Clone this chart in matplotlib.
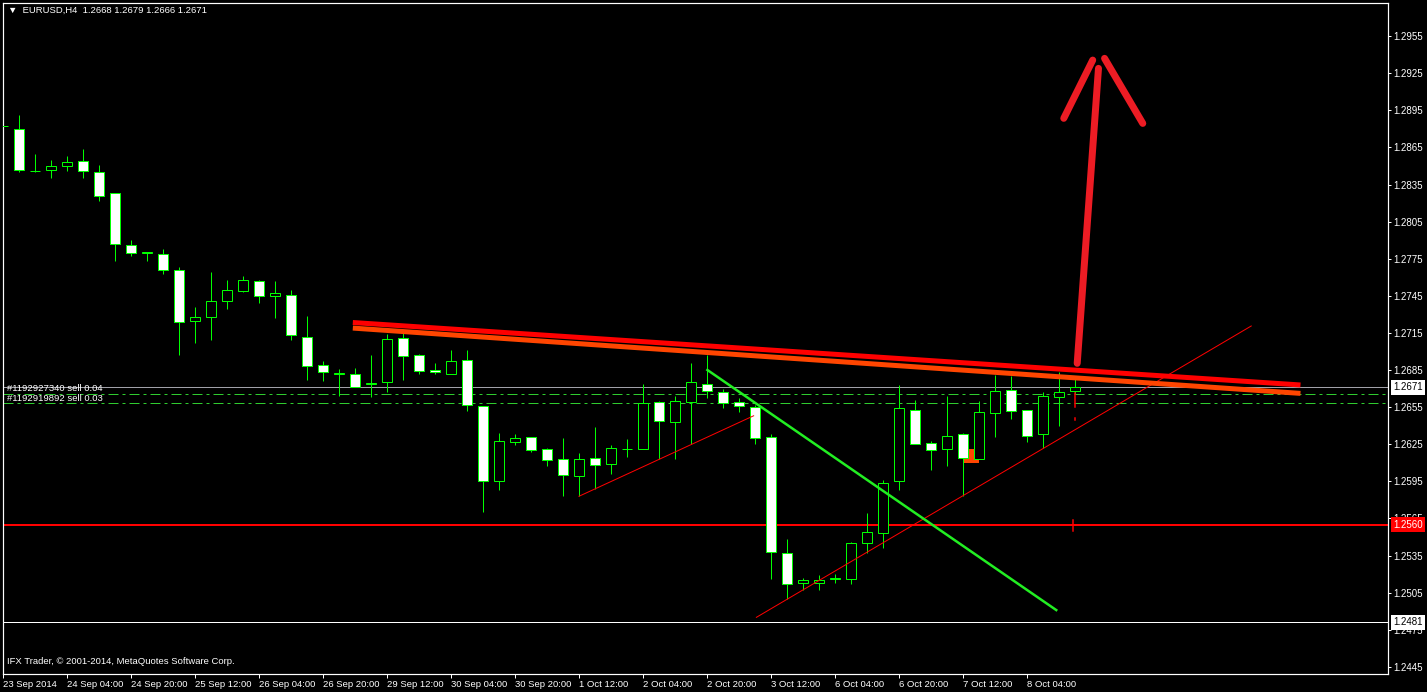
import matplotlib
matplotlib.use("Agg")
import matplotlib.pyplot as plt
from matplotlib.patches import Rectangle

plt.rcParams['font.family'] = ['Liberation Sans', 'DejaVu Sans']

# ============================================================
# Data: EURUSD H4 candles (bar 0 = 23 Sep 2014 12:00)
# ============================================================
opens = [1.2882, 1.2880, 1.2846, 1.2847, 1.2850, 1.2854, 1.2845, 1.2828, 1.2786, 1.2780,
         1.2779, 1.2766, 1.2725, 1.2728, 1.2741, 1.2749, 1.2757, 1.2745, 1.2746, 1.2712,
         1.2689, 1.2682, 1.2682, 1.2674, 1.2675, 1.2711, 1.2697, 1.2685, 1.2682, 1.2693,
         1.2656, 1.2595, 1.2627, 1.2631, 1.2621, 1.2613, 1.2599, 1.2614, 1.2609, 1.2621,
         1.2621, 1.2659, 1.2643, 1.2659, 1.2674, 1.2667, 1.2659, 1.2655, 1.2631, 1.2537,
         1.2513, 1.2513, 1.2516, 1.2516, 1.2545, 1.2553, 1.2595, 1.2653, 1.2626, 1.2621,
         1.2633, 1.2613, 1.2650, 1.2669, 1.2653, 1.2633, 1.2663, 1.2668]
highs = [1.2901, 1.2891, 1.2860, 1.2855, 1.2858, 1.2864, 1.2851, 1.2828, 1.2790, 1.2780,
         1.2783, 1.2768, 1.2736, 1.2764, 1.2758, 1.2761, 1.2758, 1.2757, 1.2750, 1.2729,
         1.2692, 1.2686, 1.2687, 1.2697, 1.2714, 1.2715, 1.2698, 1.2691, 1.2701, 1.2701,
         1.2656, 1.2634, 1.2633, 1.2631, 1.2622, 1.2630, 1.2618, 1.2639, 1.2624, 1.2629,
         1.2674, 1.2660, 1.2664, 1.2691, 1.2697, 1.2670, 1.2662, 1.2657, 1.2633, 1.2548,
         1.2517, 1.2519, 1.2520, 1.2546, 1.2569, 1.2596, 1.2673, 1.2661, 1.2628, 1.2664,
         1.2634, 1.2660, 1.2681, 1.2680, 1.2653, 1.2667, 1.2683, 1.2679]
lows = [1.2873, 1.2845, 1.2845, 1.2840, 1.2846, 1.2840, 1.2822, 1.2773, 1.2777, 1.2773,
        1.2763, 1.2697, 1.2707, 1.2709, 1.2734, 1.2748, 1.2739, 1.2727, 1.2709, 1.2677,
        1.2676, 1.2664, 1.2671, 1.2663, 1.2667, 1.2677, 1.2682, 1.2682, 1.2682, 1.2652,
        1.2570, 1.2588, 1.2624, 1.2619, 1.2607, 1.2583, 1.2583, 1.2589, 1.2601, 1.2615,
        1.2621, 1.2613, 1.2613, 1.2625, 1.2662, 1.2654, 1.2651, 1.2625, 1.2516, 1.2500,
        1.2507, 1.2507, 1.2513, 1.2512, 1.2537, 1.2541, 1.2588, 1.2625, 1.2604, 1.2607,
        1.2583, 1.2613, 1.2631, 1.2645, 1.2627, 1.2622, 1.2640, 1.2666]
closes = [1.2882, 1.2847, 1.2846, 1.2850, 1.2853, 1.2846, 1.2826, 1.2787, 1.2780, 1.2780,
          1.2766, 1.2724, 1.2728, 1.2741, 1.2750, 1.2758, 1.2745, 1.2747, 1.2713, 1.2688,
          1.2683, 1.2682, 1.2671, 1.2674, 1.2710, 1.2696, 1.2684, 1.2683, 1.2692, 1.2657,
          1.2595, 1.2628, 1.2630, 1.2620, 1.2612, 1.2600, 1.2613, 1.2608, 1.2622, 1.2621,
          1.2658, 1.2644, 1.2660, 1.2675, 1.2668, 1.2658, 1.2656, 1.2630, 1.2538, 1.2512,
          1.2515, 1.2515, 1.2517, 1.2545, 1.2554, 1.2594, 1.2654, 1.2625, 1.2620, 1.2632,
          1.2614, 1.2651, 1.2668, 1.2652, 1.2632, 1.2664, 1.2667, 1.2671]

# time axis labels, one every 4 bars
time_ticks = [0, 4, 8, 12, 16, 20, 24, 28, 32, 36, 40, 44, 48, 52, 56, 60, 64]
time_labels = ["23 Sep 2014", "24 Sep 04:00", "24 Sep 20:00", "25 Sep 12:00", "26 Sep 04:00",
               "26 Sep 20:00", "29 Sep 12:00", "30 Sep 04:00", "30 Sep 20:00", "1 Oct 12:00",
               "2 Oct 04:00", "2 Oct 20:00", "3 Oct 12:00", "6 Oct 04:00", "6 Oct 20:00",
               "7 Oct 12:00", "8 Oct 04:00"]
price_ticks = [1.2445, 1.2475, 1.2505, 1.2535, 1.2565, 1.2595, 1.2625, 1.2655, 1.2685,
               1.2715, 1.2745, 1.2775, 1.2805, 1.2835, 1.2865, 1.2895, 1.2925, 1.2955]

# ============================================================
# Objects drawn on the chart (bar index, price)
# ============================================================
bid = 1.2671
order_lines = [1.26653, 1.26581]
order_labels = ["#1192927340 sell 0.04", "#1192919892 sell 0.03"]
support_level = 1.2560
low_level = 1.2481
resist_red = [(21.86, 1.27234), (81.11, 1.26729)]
resist_orange = [(21.86, 1.27189), (81.11, 1.26661)]
trend_up_1 = [(36.0, 1.25829), (46.92, 1.26480)]
trend_up_2 = [(47.09, 1.24850), (78.03, 1.27206)]
trend_down = [(44.03, 1.26850), (65.84, 1.24909)]
arrow_shaft = [(67.15, 1.26904), (68.48, 1.29289)]
arrow_left = [(68.12, 1.29356), (66.31, 1.28885)]
arrow_right = [(68.86, 1.29370), (71.25, 1.28844)]
box_bars = (60.0, 61.0)
box_prices = (1.26100, 1.26208)

# ============================================================
# Figure
# ============================================================
fig = plt.figure(figsize=(14.27, 6.92), dpi=100, facecolor="black")
ax = fig.add_axes([2.7 / 1427, 18 / 692, 1384.8 / 1427, 671.3 / 692])
ax.set_facecolor("black")

green = "#00FF00"
px = 0.72  # one pixel in points

# rectangle object behind candles
ax.add_patch(Rectangle((box_bars[0], box_prices[0]), box_bars[1] - box_bars[0],
                       box_prices[1] - box_prices[0], facecolor="#FF4500",
                       edgecolor="none", zorder=1))

# horizontal lines
ax.axhline(bid, color="#A0A0A8", lw=1 * px, zorder=1.5)
for p in order_lines:
    ax.axhline(p, color="#2FCC2F", lw=1 * px, dashes=(10, 4, 3, 4), zorder=1.5)
ax.axhline(support_level, color="#FF0000", lw=2 * px, zorder=1.5)
ax.axhline(low_level, color="white", lw=1 * px, zorder=1.5)

# candles
xs = list(range(len(opens)))
ax.vlines(xs, lows, highs, color=green, lw=1 * px, zorder=2)
for i in xs:
    o, c = opens[i], closes[i]
    bottom = min(o, c)
    h = max(abs(c - o), 0.00002)
    face = "white" if c < o else "black"
    ax.add_patch(Rectangle((i - 0.31, bottom), 0.62, h, facecolor=face,
                           edgecolor=green, lw=1 * px, zorder=3))

# trend lines
def seg(pts, **kw):
    ax.plot([pts[0][0], pts[1][0]], [pts[0][1], pts[1][1]], **kw)

seg(resist_red, color="#FF0000", lw=5 * px, solid_capstyle="butt", zorder=5)
seg(resist_orange, color="#FF4500", lw=5 * px, solid_capstyle="butt", zorder=5)
seg(trend_up_1, color="#FF0000", lw=1 * px, zorder=4)
seg(trend_up_2, color="#FF0000", lw=1 * px, zorder=4)
seg(trend_down, color="#22EE22", lw=2.5 * px, zorder=4)
for a in (arrow_shaft, arrow_left, arrow_right):
    seg(a, color="#ED1C24", lw=7 * px, solid_capstyle="round", zorder=6)

# order marks on the last bar
ax.plot([67, 67], [1.26662, 1.26554], color="#FF0000", lw=1.5 * px, zorder=4)
ax.plot([67, 67], [1.26465, 1.26449], color="#FF0000", lw=1.5 * px, zorder=4)
ax.plot([66.9, 66.9], [1.25640, 1.25550], color="#FF0000", lw=1.5 * px, zorder=4)

# order labels
ax.text(0.25, order_lines[0] + 0.00046, order_labels[0], color="white", fontsize=6.8,
        va="center", ha="left", zorder=7)
ax.text(0.25, order_lines[1] + 0.00042, order_labels[1], color="white", fontsize=6.8,
        va="center", ha="left", zorder=7)

# axes
ax.set_xlim(-0.03, 86.55)
ax.set_ylim(1.24392, 1.29820)
for s in ax.spines.values():
    s.set_color("white")
    s.set_linewidth(1.2 * px)

ax.yaxis.tick_right()
ax.set_yticks(price_ticks)
ax.set_yticklabels([f"{p:.4f}" for p in price_ticks])
ax.tick_params(axis="y", colors="white", labelcolor="white", labelsize=7,
               length=3 * px, width=1 * px, pad=3 * px)
ax.set_xticks(time_ticks)
ax.set_xticklabels(time_labels)
ax.tick_params(axis="x", colors="white", labelcolor="white", labelsize=6.8,
               length=4 * px, width=1 * px, pad=1.5)
for lbl in ax.get_xticklabels():
    lbl.set_horizontalalignment("left")

# price boxes on the right scale
ytr = ax.get_yaxis_transform()
for p, fc, tc in [(bid, "white", "black"), (support_level, "#FF0000", "white"),
                  (low_level, "white", "black")]:
    ax.annotate(f"{p:.4f}", xy=(1, p), xycoords=ytr, xytext=(4, 0),
                textcoords="offset points", ha="left", va="center", fontsize=7,
                color=tc, annotation_clip=False, zorder=10,
                bbox=dict(boxstyle="square,pad=0.25", facecolor=fc, edgecolor="none"))

# header and footer texts
ax.text(0.004, 0.988, "\u25bc  EURUSD,H4  1.2668 1.2679 1.2666 1.2671", transform=ax.transAxes,
        color="white", fontsize=6.8, ha="left", va="center", zorder=10)
ax.text(0.003, 0.012, "IFX Trader, \u00a9 2001-2014, MetaQuotes Software Corp.",
        transform=ax.transAxes, color="white", fontsize=6.8, ha="left", va="bottom", zorder=10)

fig.savefig("out.png", dpi=100, facecolor="black")
